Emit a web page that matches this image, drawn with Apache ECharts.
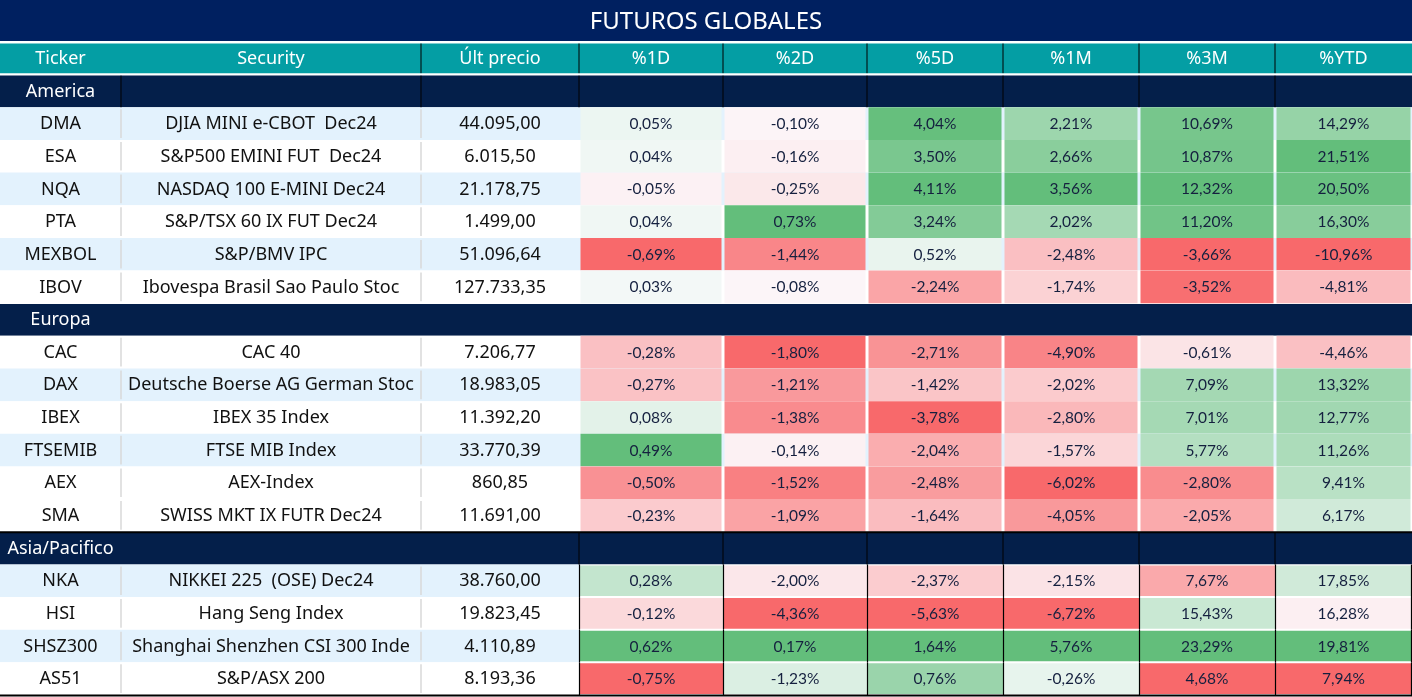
<!DOCTYPE html>
<html>
<head>
<meta charset="utf-8">
<script src="https://cdn.jsdelivr.net/npm/echarts@6/dist/echarts.min.js"></script>
<style>
html,body{margin:0;padding:0;background:#fff;}
#chart{width:1412px;height:697px;}
</style>
</head>
<body>
<div id="chart"></div>
<script>
// ---------------- DATA ----------------
const title = 'FUTUROS GLOBALES';
const headers = ['Ticker', 'Security', 'Últ precio', '%1D', '%2D', '%5D', '%1M', '%3M', '%YTD'];
const groups = ['America', 'Europa', 'Asia/Pacifico'];
const regionOf = ['America','America','America','America','America','America',
  'Europa','Europa','Europa','Europa','Europa','Europa',
  'Asia/Pacifico','Asia/Pacifico','Asia/Pacifico','Asia/Pacifico'];
const tickers = ['DMA','ESA','NQA','PTA','MEXBOL','IBOV','CAC','DAX','IBEX','FTSEMIB','AEX','SMA','NKA','HSI','SHSZ300','AS51'];
const securities = ['DJIA MINI e-CBOT  Dec24','S&P500 EMINI FUT  Dec24','NASDAQ 100 E-MINI Dec24','S&P/TSX 60 IX FUT Dec24',
  'S&P/BMV IPC','Ibovespa Brasil Sao Paulo Stoc','CAC 40','Deutsche Boerse AG German Stoc','IBEX 35 Index','FTSE MIB Index',
  'AEX-Index','SWISS MKT IX FUTR Dec24','NIKKEI 225  (OSE) Dec24','Hang Seng Index','Shanghai Shenzhen CSI 300 Inde','S&P/ASX 200'];
const lastPrice = [44095.00, 6015.50, 21178.75, 1499.00, 51096.64, 127733.35, 7206.77, 18983.05, 11392.20, 33770.39, 860.85, 11691.00, 38760.00, 19823.45, 4110.89, 8193.36];
const pct1D  = [0.05, 0.04, -0.05, 0.04, -0.69, 0.03, -0.28, -0.27, 0.08, 0.49, -0.50, -0.23, 0.28, -0.12, 0.62, -0.75];
const pct2D  = [-0.10, -0.16, -0.25, 0.73, -1.44, -0.08, -1.80, -1.21, -1.38, -0.14, -1.52, -1.09, -2.00, -4.36, 0.17, -1.23];
const pct5D  = [4.04, 3.50, 4.11, 3.24, 0.52, -2.24, -2.71, -1.42, -3.78, -2.04, -2.48, -1.64, -2.37, -5.63, 1.64, 0.76];
const pct1M  = [2.21, 2.66, 3.56, 2.02, -2.48, -1.74, -4.90, -2.02, -2.80, -1.57, -6.02, -4.05, -2.15, -6.72, 5.76, -0.26];
const pct3M  = [10.69, 10.87, 12.32, 11.20, -3.66, -3.52, -0.61, 7.09, 7.01, 5.77, -2.80, -2.05, 7.67, 15.43, 23.29, 4.68];
const pctYTD = [14.29, 21.51, 20.50, 16.30, -10.96, -4.81, -4.46, 13.32, 12.77, 11.26, 9.41, 6.17, 17.85, 16.28, 19.81, 7.94];
const pctCols = [pct1D, pct2D, pct5D, pct1M, pct3M, pctYTD];

// ---------------- LAYOUT / STYLE ----------------
const colEdges = [0, 121, 421, 579, 723, 867, 1003, 1139, 1275, 1412];
const C = {
  titleBg: '#002060', header: '#049EA4', group: '#041F4A', band: '#E3F2FD', white: '#FFFFFF',
  grid: '#D9D9D9', text: '#111111', pctText: '#15203F',
  red: [248, 105, 107], mid: [252, 252, 255], green: [99, 190, 123]
};
const FONT = '"Noto Sans"';
const PFONT = 'Lato';
// colour-scale sections (conditional formatting): shared range, midpoint type
const scaleSections = [
  { groups: ['America', 'Europa'], mid: 'zero' },
  { groups: ['Asia/Pacifico'], mid: 'median' }
];
const bandedTickers = ['DMA', 'NQA', 'MEXBOL', 'DAX', 'FTSEMIB', 'NKA', 'SHSZ300'];
const groupDividers = { 'America': [1, 2, 3, 4, 5, 6, 7, 8], 'Europa': [], 'Asia/Pacifico': [3, 4, 5, 6, 7, 8] };

// ---------------- HELPERS ----------------
function fmtNum(v) {
  const [i, d] = v.toFixed(2).split('.');
  return i.replace(/\B(?=(\d{3})+(?!\d))/g, '.') + ',' + d;
}
function fmtPct(v) { return v.toFixed(2).replace('.', ',') + '%'; }
function lerp(a, b, t) {
  t = Math.max(0, Math.min(1, t));
  return 'rgb(' + a.map((x, k) => Math.round(x + (b[k] - x) * t)).join(',') + ')';
}
function median(arr) {
  const s = arr.slice().sort((a, b) => a - b), n = s.length;
  return n % 2 ? s[(n - 1) / 2] : (s[n / 2 - 1] + s[n / 2]) / 2;
}
function heatColor(colIdx, rowIdx) {
  const vals = pctCols[colIdx];
  const sec = scaleSections.find(s => s.groups.includes(regionOf[rowIdx]));
  const sub = vals.filter((_, i) => sec.groups.includes(regionOf[i]));
  const lo = Math.min(...sub), hi = Math.max(...sub);
  const mid = sec.mid === 'zero' ? 0 : median(sub);
  const v = vals[rowIdx];
  if (v <= mid) return lerp(C.mid, C.red, (mid - v) / (mid - lo));
  return lerp(C.mid, C.green, (v - mid) / (hi - mid));
}

// ---------------- ROWS / CELLS ----------------
const rowKeys = ['__header'];
const items = [];
headers.forEach((h, c) => items.push({ kind: 'header', row: 0, col: c, text: h }));
groups.forEach(g => {
  const gr = rowKeys.length;
  rowKeys.push('__' + g);
  for (let c = 0; c < headers.length; c++) items.push({ kind: 'group', row: gr, col: c, group: g, text: c === 0 ? g : '' });
  tickers.forEach((t, i) => {
    if (regionOf[i] !== g) return;
    const r = rowKeys.length;
    rowKeys.push(t);
    const band = bandedTickers.includes(t) ? C.band : C.white;
    items.push({ kind: 'text', row: r, col: 0, text: t, band, group: g });
    items.push({ kind: 'text', row: r, col: 1, text: securities[i], band, group: g });
    items.push({ kind: 'text', row: r, col: 2, text: fmtNum(lastPrice[i]), band, group: g });
    pctCols.forEach((arr, k) => items.push({ kind: 'heat', row: r, col: 3 + k, text: fmtPct(arr[i]), band, group: g, fill: heatColor(k, i) }));
  });
});
const lastRow = rowKeys.length - 1;

function renderItem(params, api) {
  const it = items[params.dataIndex];
  const p0 = api.coord([api.value(0), api.value(2)]);
  const p1 = api.coord([api.value(1), api.value(2)]);
  const h = api.size([0, 1])[1];
  const x0 = p0[0], x1 = p1[0], yc = p0[1], top = yc - h / 2, bot = yc + h / 2;
  const ch = [];
  const line = (xa, ya, xb, yb, color, w) => ch.push({ type: 'line', shape: { x1: xa, y1: ya, x2: xb, y2: yb }, style: { stroke: color, lineWidth: w }, z2: 5 });
  const txt = (x, text, color, font) => ch.push({ type: 'text', z2: 10, style: { x, y: yc + 0.5, text, fill: color, font, align: 'center', verticalAlign: 'middle' } });
  const cx = (x0 + x1) / 2;
  if (it.kind === 'header') {
    ch.push({ type: 'rect', shape: { x: x0, y: top + 1.5, width: x1 - x0, height: h - 3 }, style: { fill: C.header } });
    if (it.col >= 2) line(x0, top + 1.5, x0, bot - 1.5, '#000', 1);
    txt(cx, it.text, '#fff', '18px ' + FONT);
  } else if (it.kind === 'group') {
    ch.push({ type: 'rect', shape: { x: x0, y: top + 0.8, width: x1 - x0, height: h - 0.8 }, style: { fill: C.group } });
    if (groupDividers[it.group].includes(it.col)) line(x0, top + 1, x0, bot, '#000', 1);
    if (it.group === 'Asia/Pacifico') line(x0, top + 0.5, x1, top + 0.5, '#000', 2);
    if (it.text) txt(cx, it.text, '#fff', '18px ' + FONT);
  } else if (it.kind === 'text') {
    ch.push({ type: 'rect', shape: { x: x0, y: top, width: x1 - x0, height: h }, style: { fill: it.band } });
    if (it.col >= 1) line(x0, top + 2, x0, bot - 2, C.grid, 1.5);
    txt(cx, it.text, C.text, '18px ' + FONT);
  } else {
    const asia = it.group === 'Asia/Pacifico';
    ch.push({ type: 'rect', shape: { x: x0, y: top, width: x1 - x0, height: h }, style: { fill: asia ? '#fff' : it.band } });
    if (asia) {
      ch.push({ type: 'rect', shape: { x: x0, y: top + 1, width: x1 - x0, height: h - 2 }, style: { fill: it.fill } });
      line(x0 + 0.5, top, x0 + 0.5, bot, '#000', 1.2);
      if (it.col === headers.length - 1) line(x1 - 0.5, top, x1 - 0.5, bot, '#000', 1.2);
    } else {
      ch.push({ type: 'rect', shape: { x: x0 + 1.5, y: top, width: x1 - x0 - 3, height: h }, style: { fill: it.fill } });
    }
    txt(cx, it.text, C.pctText, '15.5px ' + PFONT);
  }
  if (it.row === lastRow) line(x0, bot + 0.5, x1, bot + 0.5, '#000', 2);
  return { type: 'group', children: ch };
}

const chart = echarts.init(document.getElementById('chart'), null, { renderer: 'canvas' });
chart.setOption({
  animation: false,
  backgroundColor: '#fff',
  title: { text: title, left: 'center', top: 5, textStyle: { color: '#fff', fontFamily: 'Noto Sans', fontSize: 24, fontWeight: 'normal' } },
  graphic: [{ type: 'rect', left: 0, top: 0, shape: { width: 1412, height: 41 }, style: { fill: C.titleBg }, z: -1 }],
  grid: { left: 0, right: 0, top: 42, bottom: 2 },
  xAxis: { type: 'value', min: 0, max: 1412, show: false },
  yAxis: { type: 'category', data: rowKeys, inverse: true, show: false },
  series: [{
    type: 'custom', silent: true, clip: false,
    renderItem,
    encode: { x: [0, 1], y: 2 },
    data: items.map(it => [colEdges[it.col], colEdges[it.col + 1], it.row])
  }]
});
</script>
</body>
</html>
